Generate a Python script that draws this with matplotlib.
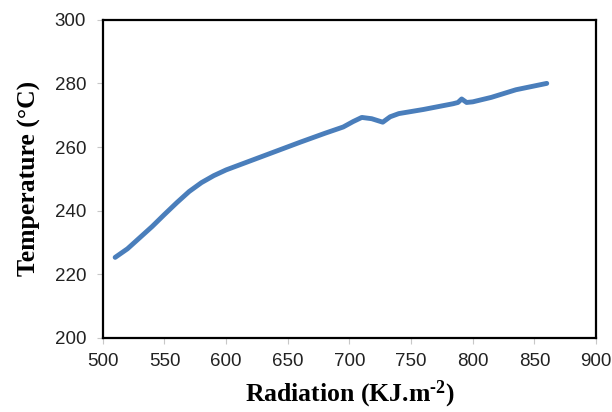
import matplotlib.pyplot as plt

radiation = [510, 520, 530, 540, 550, 560, 570, 580, 590, 600, 620, 640,
             660, 680, 695, 703, 710, 718, 727, 733, 740, 760, 784, 788,
             791, 795, 800, 815, 835, 860]
temperature = [225.3, 228.0, 231.5, 235.0, 238.8, 242.5, 246.0, 248.8, 251.0,
               252.8, 255.7, 258.6, 261.5, 264.3, 266.3, 268.0, 269.3, 268.9,
               267.8, 269.5, 270.5, 271.8, 273.6, 274.0, 275.1, 274.0, 274.2,
               275.6, 278.0, 280.0]

x_ticks = list(range(500, 901, 50))
y_ticks = list(range(200, 301, 20))

plt.rcParams["mathtext.fontset"] = "custom"
plt.rcParams["mathtext.rm"] = "Liberation Serif:bold"
plt.rcParams["mathtext.default"] = "rm"

fig = plt.figure(figsize=(6.12, 4.12), dpi=100)
ax = fig.add_axes([0.168, 0.180, 0.806, 0.772])

ax.plot(radiation, temperature, color="#4A7EBB", linewidth=3.5,
        solid_capstyle="round", solid_joinstyle="round")

ax.set_xlim(500, 900)
ax.set_ylim(200, 300)
ax.set_xticks(x_ticks)
ax.set_yticks(y_ticks)

for spine in ax.spines.values():
    spine.set_linewidth(1.6)
    spine.set_color("black")

ax.tick_params(axis="both", direction="out", length=4, width=0.8,
               color="#c8c8c8", labelsize=13.5)
ax.tick_params(axis="y", pad=8)
ax.tick_params(axis="x", pad=7)
for lbl in ax.get_xticklabels() + ax.get_yticklabels():
    lbl.set_family("Liberation Sans")
    lbl.set_color("#222222")

ax.set_xlabel(r"Radiation (KJ.m$^{\text{-2}}$)", family="Liberation Serif",
              fontweight="bold", fontsize=18.5, labelpad=6)
ax.set_ylabel("Temperature (°C)", family="Liberation Serif",
              fontweight="bold", fontsize=18.5, labelpad=10)

fig.savefig("out.png", dpi=100)
